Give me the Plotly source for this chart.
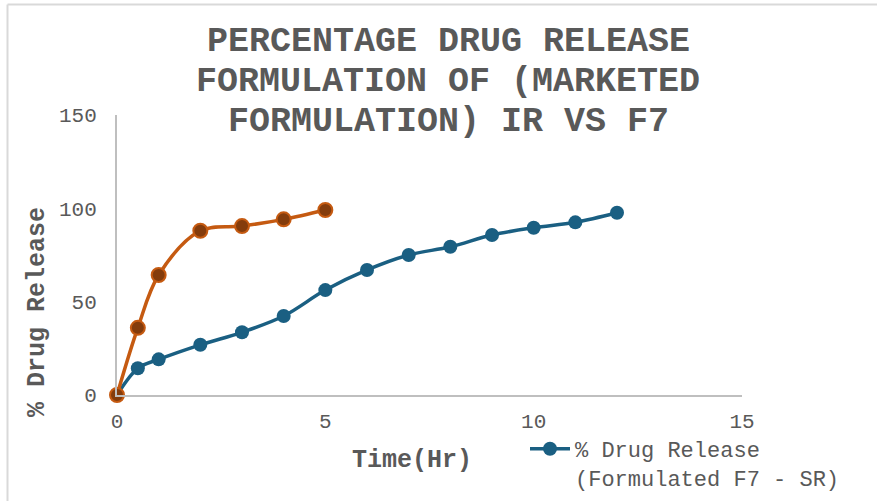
import plotly.graph_objects as go

# Dissolution data: time (h) vs cumulative % drug released
time_sr = [0, 0.5, 1, 2, 3, 4, 5, 6, 7, 8, 9, 10, 11, 12]
release_sr = [0, 14.3, 19.1, 26.9, 33.6, 42.3, 56.2, 67.0, 75.0, 79.4, 85.7, 89.6, 92.5, 97.6]

time_ir = [0, 0.5, 1, 2, 3, 4, 5]
release_ir = [0, 36.0, 64.3, 88.0, 90.5, 94.1, 99.1]

x_ticks = [0, 5, 10, 15]
y_ticks = [0, 50, 100, 150]

title_lines = [
    "PERCENTAGE DRUG RELEASE",
    "FORMULATION OF (MARKETED",
    "FORMULATION) IR VS F7",
]
name_sr = "% Drug Release<br>(Formulated F7 - SR)"
name_ir = "% Drug Release (Marketed Formulation - IR)"

W, H = 877, 501
ML, MR, MT, MB = 117, 135, 115, 106
PW, PH = W - ML - MR, H - MT - MB

def px(x):
    return (x - ML) / PW

def py(y):
    return (H - MB - y) / PH

MONO = "Liberation Mono, Courier New, monospace"
GREY = "#595959"

fig = go.Figure()

fig.add_trace(go.Scatter(
    x=time_sr, y=release_sr, name=name_sr,
    mode="lines+markers",
    line=dict(color="#1A5F82", width=3.5, shape="spline"),
    marker=dict(size=14, color="#1A5F82"),
    cliponaxis=False,
))

fig.add_trace(go.Scatter(
    x=time_ir, y=release_ir, name=name_ir,
    mode="lines+markers",
    line=dict(color="#C55A11", width=3.5, shape="spline"),
    marker=dict(size=14, color="#843C0C", line=dict(color="#C55A11", width=2)),
    cliponaxis=False, showlegend=False,
))

annotations = []
for text, yc in zip(title_lines, [42, 82, 122]):
    annotations.append(dict(
        text=text, x=px(448), y=py(yc), xref="paper", yref="paper",
        xanchor="center", yanchor="middle", showarrow=False,
        font=dict(family=MONO, size=35, color=GREY, weight="bold"),
    ))
annotations.append(dict(
    text="% Drug Release", x=px(37), y=py(312), xref="paper", yref="paper",
    xanchor="center", yanchor="middle", textangle=-90, showarrow=False,
    font=dict(family=MONO, size=25, color=GREY, weight="bold"),
))
annotations.append(dict(
    text="Time(Hr)", x=px(412), y=py(460), xref="paper", yref="paper",
    xanchor="center", yanchor="middle", showarrow=False,
    font=dict(family=MONO, size=25, color=GREY, weight="bold"),
))

border = dict(color="#D9D9D9", width=2)
shapes = [
    dict(type="line", xref="paper", yref="paper",
         x0=px(7.5), x1=px(W + 10), y0=py(4.5), y1=py(4.5), line=border),
    dict(type="line", xref="paper", yref="paper",
         x0=px(7.5), x1=px(7.5), y0=py(4.5), y1=py(H + 10), line=border),
]

axis_common = dict(
    showgrid=False, zeroline=False, showline=True,
    linecolor="#BFBFBF", linewidth=2, ticks="",
    tickfont=dict(family=MONO, size=21, color=GREY),
)

fig.update_layout(
    width=W, height=H,
    margin=dict(l=ML, r=MR, t=MT, b=MB, autoexpand=False),
    paper_bgcolor="white", plot_bgcolor="white",
    xaxis=dict(range=[0, 15], tickvals=x_ticks, ticklabelstandoff=6, **axis_common),
    yaxis=dict(range=[0, 150], tickvals=y_ticks, ticklabelstandoff=14, **axis_common),
    annotations=annotations,
    shapes=shapes,
    showlegend=True,
    legend=dict(
        x=px(525), y=py(428), xanchor="left", yanchor="top",
        valign="top", bgcolor="rgba(0,0,0,0)", itemwidth=40,
        font=dict(family=MONO, size=22, color=GREY),
    ),
)

fig.write_html("out.html")
